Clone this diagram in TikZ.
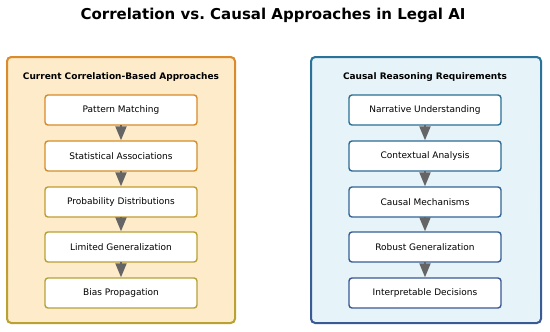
\documentclass[tikz,border=0pt]{standalone}
\usepackage{fontspec}
\setmainfont{DejaVu Sans}
\usetikzlibrary{arrows.meta,calc}
\definecolor{lfill}{HTML}{FDEBC9}
\definecolor{ltop}{HTML}{DB8A2C}
\definecolor{lbot}{HTML}{B9A233}
\definecolor{rfill}{HTML}{E6F3F8}
\definecolor{rtop}{HTML}{2A7398}
\definecolor{rbot}{HTML}{3A5A95}
\definecolor{arrgray}{HTML}{656565}
\definecolor{lb1}{HTML}{D98A2A}
\definecolor{lb2}{HTML}{D28E2B}
\definecolor{lb3}{HTML}{C39C30}
\definecolor{lb4}{HTML}{B9A034}
\definecolor{lb5}{HTML}{B4A23A}
\definecolor{rb1}{HTML}{2B7094}
\definecolor{rb2}{HTML}{2E6A95}
\definecolor{rb3}{HTML}{326495}
\definecolor{rb4}{HTML}{365E95}
\definecolor{rb5}{HTML}{3A5895}
\tikzset{
  stepbox/.style={draw, fill=white, line width=1.4pt, rounded corners=3pt,
    minimum width=152pt, minimum height=30pt, inner sep=0pt,
    font=\fontsize{9pt}{10pt}\selectfont},
  flowarrow/.style={draw=arrgray, line width=2pt, -{Triangle[length=14pt,width=11pt]}, shorten <=-0.5pt, shorten >=0pt},
  paneltitle/.style={font=\bfseries\fontsize{9pt}{10pt}\selectfont, inner sep=0pt},
}
\begin{document}
\begin{tikzpicture}[x=1pt,y=-1pt]
\useasboundingbox (0,0) rectangle (550,332);
\fill[white] (0,0) rectangle (550,332);
\node[font=\bfseries\fontsize{15pt}{17pt}\selectfont, inner sep=0pt] (title) at (273,15) {Correlation vs.\ Causal Approaches in Legal AI};

% left panel
\fill[lfill, rounded corners=4pt] (7,57) rectangle (235,323);
\path[even odd rule, top color=ltop, bottom color=lbot]
  [rounded corners=5pt] (6,56) rectangle (236,324)
  [rounded corners=3.5pt] (8,58) rectangle (234,322);
\node[paneltitle] (ltitle) at (121,77) {Current Correlation-Based Approaches};

% right panel
\fill[rfill, rounded corners=4pt] (311,57) rectangle (541,323);
\path[even odd rule, top color=rtop, bottom color=rbot]
  [rounded corners=5pt] (310,56) rectangle (542,324)
  [rounded corners=3.5pt] (312,58) rectangle (540,322);
\node[paneltitle] (rtitle) at (425,77) {Causal Reasoning Requirements};

% left boxes
\node[stepbox, draw=lb1] (l1) at (121,110) {Pattern Matching};
\node[stepbox, draw=lb2] (l2) at (121,156) {Statistical Associations};
\node[stepbox, draw=lb3] (l3) at (121,202) {Probability Distributions};
\node[stepbox, draw=lb4] (l4) at (121,247) {Limited Generalization};
\node[stepbox, draw=lb5] (l5) at (121,293) {Bias Propagation};

% right boxes
\node[stepbox, draw=rb1] (r1) at (425,110) {Narrative Understanding};
\node[stepbox, draw=rb2] (r2) at (425,156) {Contextual Analysis};
\node[stepbox, draw=rb3] (r3) at (425,202) {Causal Mechanisms};
\node[stepbox, draw=rb4] (r4) at (425,247) {Robust Generalization};
\node[stepbox, draw=rb5] (r5) at (425,293) {Interpretable Decisions};

\foreach \a/\b in {l1/l2,l2/l3,l3/l4,l4/l5,r1/r2,r2/r3,r3/r4,r4/r5}
  \draw[flowarrow] (\a.south) -- (\b.north);
\end{tikzpicture}
\end{document}
